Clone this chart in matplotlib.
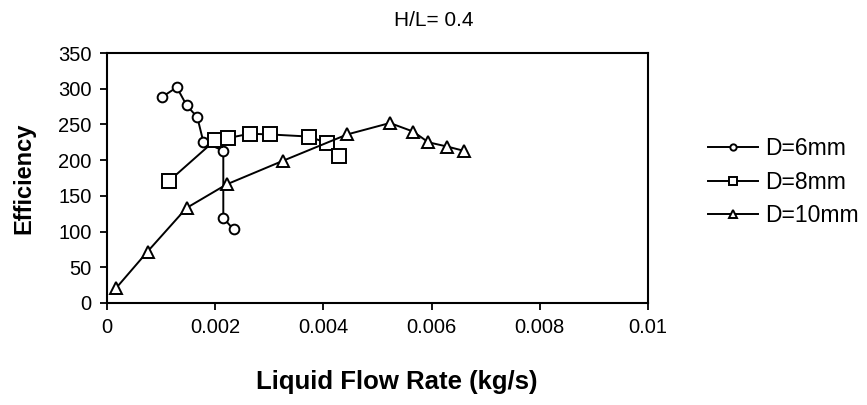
import matplotlib
matplotlib.use("Agg")
import matplotlib.pyplot as plt

plt.rcParams["font.family"] = ["Liberation Sans", "DejaVu Sans"]

# liquid flow rate (kg/s) and efficiency for each nozzle diameter
flow_6mm = [0.00101, 0.00129, 0.00147, 0.00167, 0.00178, 0.00215, 0.00215, 0.00234]
eff_6mm = [288, 302, 277, 260, 226, 213, 119, 103]

flow_8mm = [0.00115, 0.00200, 0.00224, 0.00264, 0.00301, 0.00374, 0.00406, 0.00429]
eff_8mm = [171, 228, 231, 237, 236, 233, 224, 206]

flow_10mm = [0.00017, 0.00075, 0.00147, 0.00221, 0.00325, 0.00444, 0.00523,
             0.00566, 0.00594, 0.00629, 0.00660]
eff_10mm = [21, 72, 133, 166, 199, 236, 252, 240, 225, 219, 213]

labels = ["D=6mm", "D=8mm", "D=10mm"]
xticks = [0, 0.002, 0.004, 0.006, 0.008, 0.01]
xticklabels = ["0", "0.002", "0.004", "0.006", "0.008", "0.01"]
yticks = [0, 50, 100, 150, 200, 250, 300, 350]

fig = plt.figure(figsize=(8.67, 4.05), dpi=100)
ax = fig.add_axes([0.1234, 0.2519, 0.6240, 0.6172])

common = dict(color="black", lw=1.4, mfc="white", mec="black", mew=1.4)
ax.plot(flow_6mm, eff_6mm, marker="o", ms=7, label=labels[0], **common)
ax.plot(flow_8mm, eff_8mm, marker="s", ms=9.5, label=labels[1], **common)
ax.plot(flow_10mm, eff_10mm, marker="^", ms=9, label=labels[2], **common)

ax.set_xlim(0, 0.01)
ax.set_ylim(0, 350)
ax.set_xticks(xticks)
ax.set_xticklabels(xticklabels)
ax.set_yticks(yticks)
ax.tick_params(direction="out", length=5, width=1.3, labelsize=14.5,
               colors="black", pad=6)
for s in ax.spines.values():
    s.set_linewidth(1.5)

# title and axis labels placed on the figure
fig.text(0.5, 0.95, "H/L= 0.4", ha="center", va="center", fontsize=15)
fig.text(0.458, 0.057, "Liquid Flow Rate (kg/s)", ha="center", va="center",
         fontsize=18.5, fontweight="bold")
fig.text(0.027, 0.56, "Efficiency", ha="center", va="center", rotation=90,
         fontsize=17, fontweight="bold")

fig.legend(loc="center left", bbox_to_anchor=(0.806, 0.55), frameon=False,
           fontsize=16.5, handlelength=2.2, handletextpad=0.3, labelspacing=0.45,
           markerscale=0.65, borderaxespad=0)

fig.savefig("out.png", dpi=100)
